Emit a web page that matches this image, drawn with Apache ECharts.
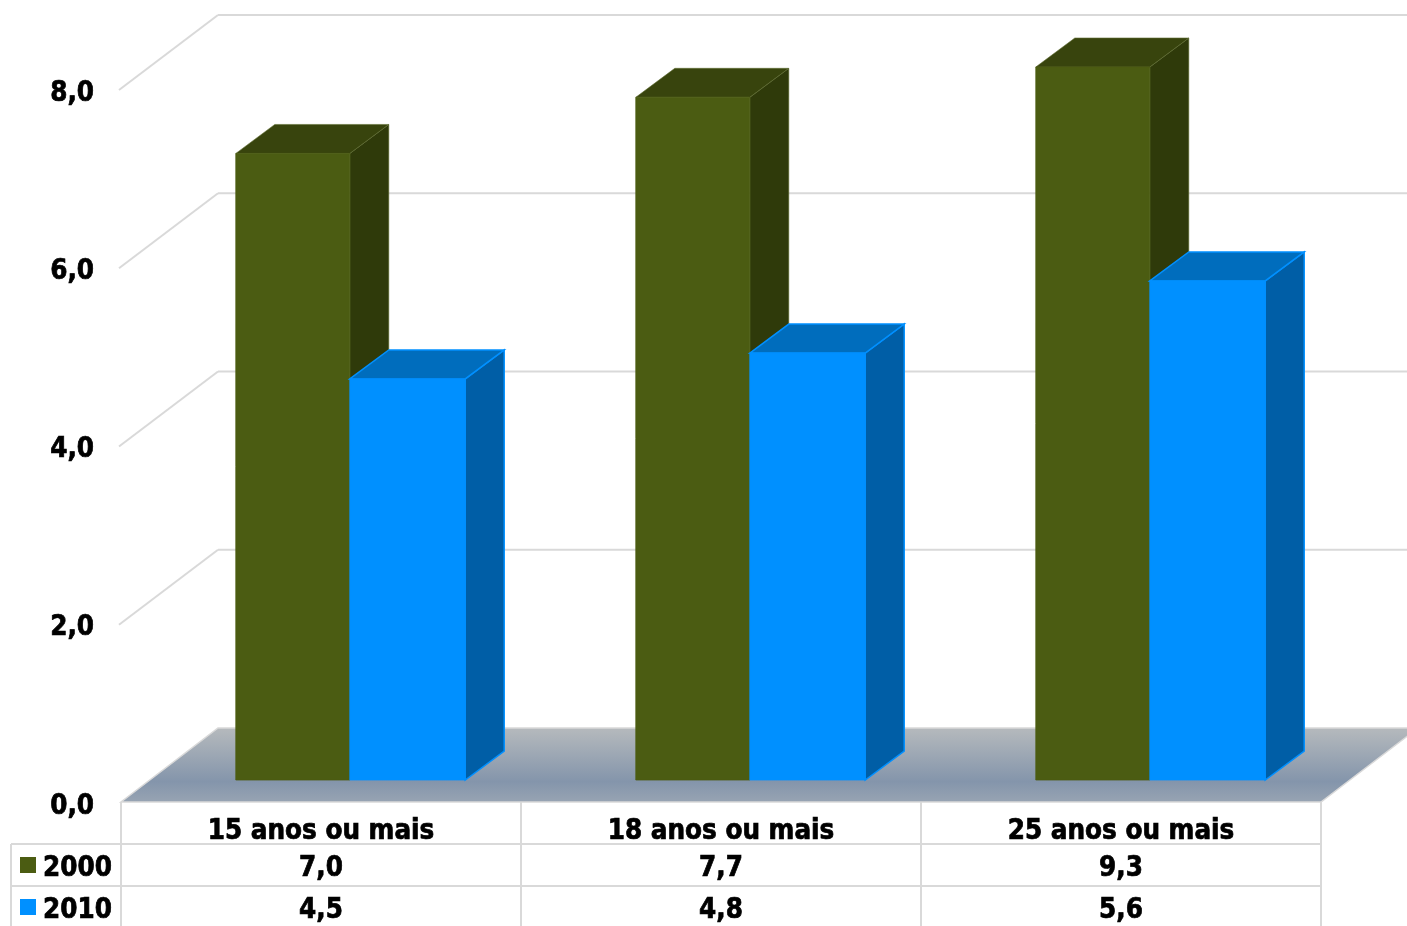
<!DOCTYPE html>
<html>
<head>
<meta charset="utf-8">
<style>html,body{margin:0;padding:0;background:#fff;overflow:hidden}#c{width:1407px;height:926px}</style>
<script src="https://cdn.jsdelivr.net/npm/echarts@6/dist/echarts.min.js"></script>
</head>
<body>
<div id="c"></div>
<script>
const categories = ['15 anos ou mais', '18 anos ou mais', '25 anos ou mais'];
const seriesNames = ['2000', '2010'];
const values2000 = [7.03, 7.66, 9.3];
const values2010 = [4.5, 4.79, 5.6];
const yTicks = [0, 2, 4, 6, 8];

const yMax = 8;
const FONT = '"DejaVu Sans Condensed", "DejaVu Sans", Verdana, sans-serif';
const FS = 27.5;
const TEXT_BOLDEN = 0.7;
const LINE = '#d9d9d9';
const wallDX = 97, wallDY = 74;      // full floor depth
const baseDX = 28.8, baseDY = 22;    // front of the bars from the front of the floor
const barDX = 39, barDY = 29;        // depth of a bar
const rowY = [865, 907];
const rowTextShift = 4;
const rowLines = [844, 886];
const tableBottom = 926, tableLeft = 11;
const swatchX = 20, swatchSize = 16;
const tickLabelGap = 27, tickLabelShift = 4.5;

const palette = [
  { front: '#4b5c12', top: '#38440d', side: '#2f3a0a', edge: '#5f6d33' },
  { front: '#0090ff', top: '#006dbd', side: '#005ea6', edge: '#0090ff' }
];
const fmt = v => v.toFixed(1).replace('.', ',');
const poly = (points, fill, stroke, lw) => ({
  type: 'polygon', silent: true,
  shape: { points },
  style: { fill, stroke: stroke || fill, lineWidth: lw === undefined ? 1 : lw }
});
const line = (x1, y1, x2, y2) => ({
  type: 'line', silent: true,
  shape: { x1, y1, x2, y2 },
  style: { stroke: LINE, lineWidth: 2 }
});

// walls: one diagonal and one back line per tick, with the tick's label; the zero tick is the floor
function renderWall(params, api) {
  const cs = params.coordSys;
  const tick = api.value(0);
  const y = api.coord([0, tick])[1];
  const x0 = cs.x, xb = cs.x + wallDX, yb = y - wallDY, xe = cs.x + cs.width + wallDX;
  const label = {
    type: 'text', silent: true,
    style: { text: fmt(tick), x: x0 - tickLabelGap, y: y + tickLabelShift, align: 'right', verticalAlign: 'middle',
      font: 'bold ' + FS + 'px ' + FONT, fill: '#000', stroke: '#000', lineWidth: TEXT_BOLDEN }
  };
  if (tick === 0) {
    return { type: 'group', children: [poly([[x0, y], [x0 + cs.width, y], [xe, yb], [xb, yb]],
      new echarts.graphic.LinearGradient(0, 0, 0, 1, [
        { offset: 0, color: '#b6babd' },
        { offset: 0.72, color: '#8495ab' },
        { offset: 1, color: '#98a4b3' }
      ]), LINE, 1.5), label] };
  }
  return { type: 'group', children: [line(x0 - 2, y + 1, xb, yb), line(xb, yb, xe, yb), label] };
}

// a bar with its top and side faces; the axis stops at yMax, so taller bars are cut there
function barRenderer(seriesIndex) {
  return function (params, api) {
    const i = api.value(0), v = Math.min(api.value(1), yMax);
    const c = palette[seriesIndex];
    const center = api.coord([i, 0]);
    const band = api.size([1, 0])[0];
    const cx = center[0] + baseDX;
    const bottom = center[1] - baseDY;
    const top = api.coord([i, v])[1] - baseDY;
    const w = seriesIndex === 0 ? band * 0.285 : band * 0.2885;
    const l = seriesIndex === 0 ? cx - w : cx;
    const r = seriesIndex === 0 ? cx : cx + w;
    const edge = seriesIndex === 1 ? 1.5 : 0.6;
    return {
      type: 'group',
      children: [
        poly([[r, top], [r + barDX, top - barDY], [r + barDX, bottom - barDY], [r, bottom]], c.side, c.edge, edge),
        poly([[l, top], [l + barDX, top - barDY], [r + barDX, top - barDY], [r, top]], c.top, c.edge, edge),
        poly([[l, top], [r, top], [r, bottom], [l, bottom]], c.front, c.front, 0.8)
      ]
    };
  };
}

// the data table under the axis: one column per category
function renderTableColumn(params, api) {
  const cs = params.coordSys;
  const i = api.value(0);
  const cx = api.coord([i, 0])[0];
  const band = api.size([1, 0])[0];
  const top = cs.y + cs.height;
  const kids = [line(cx + band / 2, top, cx + band / 2, tableBottom)];
  if (i === 0) kids.push(line(cx - band / 2, top, cx - band / 2, tableBottom));
  [api.value(1), api.value(2)].forEach((v, k) => {
    kids.push({
      type: 'text', silent: true,
      style: { text: fmt(v), x: cx, y: rowY[k] + rowTextShift, align: 'center', verticalAlign: 'middle',
        font: 'bold ' + FS + 'px ' + FONT, fill: '#000', stroke: '#000', lineWidth: TEXT_BOLDEN }
    });
  });
  return { type: 'group', children: kids };
}

const tableGraphics = [];
rowLines.forEach(y => tableGraphics.push({
  type: 'line', silent: true, shape: { x1: tableLeft, y1: y, x2: 121 + 1200, y2: y },
  style: { stroke: LINE, lineWidth: 2 }
}));
tableGraphics.push({
  type: 'line', silent: true, shape: { x1: tableLeft, y1: rowLines[0], x2: tableLeft, y2: tableBottom },
  style: { stroke: LINE, lineWidth: 2 }
});
seriesNames.forEach((name, k) => {
  tableGraphics.push({
    type: 'rect', silent: true,
    shape: { x: swatchX, y: rowY[k] - swatchSize / 2, width: swatchSize, height: swatchSize },
    style: { fill: palette[k].front }
  });
  tableGraphics.push({
    type: 'text', silent: true, x: 43, y: rowY[k] + rowTextShift,
    style: { text: name, font: 'bold ' + FS + 'px ' + FONT, fill: '#000', stroke: '#000', lineWidth: TEXT_BOLDEN,
      verticalAlign: 'middle', align: 'left' }
  });
});

const chart = echarts.init(document.getElementById('c'), null, { renderer: 'canvas', width: 1407, height: 926 });
chart.setOption({
  animation: false,
  backgroundColor: '#fff',
  tooltip: { show: false },
  legend: { show: false },
  grid: { left: 121, top: 89, width: 1200, height: 713, containLabel: false },
  xAxis: {
    type: 'category', data: categories,
    axisLine: { show: false }, axisTick: { show: false }, splitLine: { show: false },
    axisLabel: { fontFamily: FONT, fontWeight: 'bold', fontSize: FS, color: '#000', margin: 15.5, interval: 0,
      textBorderColor: '#000', textBorderWidth: TEXT_BOLDEN }
  },
  yAxis: {
    type: 'value', min: 0, max: yMax, interval: 2,
    axisLine: { show: false }, axisTick: { show: false }, splitLine: { show: false },
    axisLabel: { show: false }
  },
  graphic: tableGraphics,
  series: [
    { type: 'custom', name: 'wall', silent: true, clip: false, z: 1, renderItem: renderWall,
      encode: { y: 0 }, data: yTicks.map(t => [t]) },
    { type: 'custom', name: seriesNames[0], silent: true, clip: false, z: 3, renderItem: barRenderer(0),
      encode: { x: 0, y: 1 }, data: values2000.map((v, i) => [i, v]) },
    { type: 'custom', name: seriesNames[1], silent: true, clip: false, z: 4, renderItem: barRenderer(1),
      encode: { x: 0, y: 1 }, data: values2010.map((v, i) => [i, v]) },
    { type: 'custom', name: 'table', silent: true, clip: false, z: 5, renderItem: renderTableColumn,
      encode: { x: 0 }, data: categories.map((c, i) => [i, values2000[i], values2010[i]]) }
  ]
});
</script>
</body>
</html>
